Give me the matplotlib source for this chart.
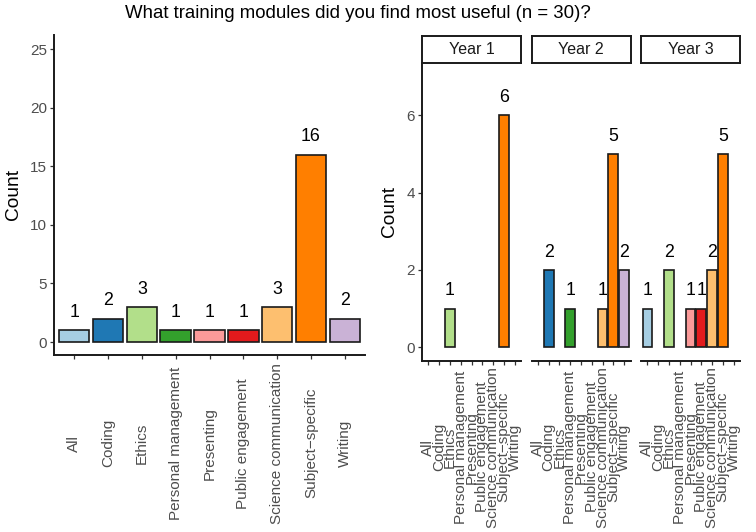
import matplotlib
matplotlib.use("Agg")
import matplotlib.pyplot as plt

plt.rcParams['font.family'] = ['Liberation Sans', 'DejaVu Sans']

# data
modules = ['All', 'Coding', 'Ethics', 'Personal management', 'Presenting',
           'Public engagement', 'Science communication', 'Subject\u2212specific', 'Writing']
total = [1, 2, 3, 1, 1, 1, 3, 16, 2]
years = ['Year 1', 'Year 2', 'Year 3']
year1 = [0, 0, 1, 0, 0, 0, 0, 6, 0]
year2 = [0, 2, 0, 1, 0, 0, 1, 5, 2]
year3 = [1, 0, 2, 0, 1, 1, 2, 5, 0]
by_year = [year1, year2, year3]

colours = ['#A6CEE3', '#1F78B4', '#B2DF8A', '#33A02C', '#FB9A99',
           '#E31A1C', '#FDBF6F', '#FF7F00', '#CAB2D6']

W, H = 756, 532
fig = plt.figure(figsize=(W / 100, H / 100), dpi=100)


def px_axes(x0, y0, x1, y1):
    # pixel box (from top-left) -> figure axes
    return fig.add_axes([x0 / W, 1 - y1 / H, (x1 - x0) / W, (y1 - y0) / H])


def style(ax, show_y=True):
    for s in ['top', 'right']:
        ax.spines[s].set_visible(False)
    ax.spines['bottom'].set_linewidth(1.4)
    ax.spines['left'].set_linewidth(1.4)
    ax.spines['bottom'].set_color('#1a1a1a')
    ax.spines['left'].set_color('#1a1a1a')
    ax.spines['left'].set_visible(show_y)
    ax.tick_params(axis='both', length=3, width=0.9, colors='#333333',
                   labelcolor='#4D4D4D', labelsize=11)
    ax.tick_params(axis='y', pad=2)
    if not show_y:
        ax.tick_params(axis='y', left=False, labelleft=False)
    ax.set_facecolor('white')


def bars(ax, vals):
    xs = [i for i, v in enumerate(vals) if v > 0]
    hs = [v for v in vals if v > 0]
    cs = [colours[i] for i in xs]
    ax.bar(xs, hs, width=0.9, color=cs, edgecolor='#1a1a1a', linewidth=1.2)
    for x, h in zip(xs, hs):
        ax.annotate(str(h), (x, h), xytext=(0, 9.6), textcoords='offset points',
                    ha='center', va='baseline', fontsize=12.8, color='black')


# left panel: totals
ax = px_axes(54, 35, 365, 355)
bars(ax, total)
ax.set_xlim(-0.6, len(modules) - 0.4)
ax.set_ylim(-1.1, 26.2)
ax.set_yticks([0, 5, 10, 15, 20, 25])
ax.set_xticks(range(len(modules)))
ax.set_xticklabels(modules, rotation=90, va='center', ha='center')
style(ax)
ax.tick_params(axis='x', pad=60.5)
ax.set_ylabel('Count', fontsize=13.8, labelpad=6)

# right panel: faceted by year
facet_x = [422, 531.5, 641]
for k, (yr, vals) in enumerate(zip(years, by_year)):
    x0 = facet_x[k]
    fa = px_axes(x0, 63, x0 + 99, 360.7)
    bars(fa, vals)
    fa.set_xlim(-0.6, len(modules) - 0.4)
    fa.set_ylim(-0.35, 7.35)
    fa.set_yticks([0, 2, 4, 6])
    fa.set_xticks(range(len(modules)))
    fa.set_xticklabels(modules, rotation=90, va='center', ha='center')
    style(fa, show_y=(k == 0))
    fa.tick_params(axis='x', pad=59.2)
    if k == 0:
        fa.set_ylabel('Count', fontsize=13.8, labelpad=6)

    st = px_axes(x0, 36, x0 + 99, 62.7)
    st.set_xticks([])
    st.set_yticks([])
    for s in st.spines.values():
        s.set_linewidth(1.4)
        s.set_color('#1a1a1a')
    st.text(0.5, 0.5, yr, ha='center', va='center', fontsize=11.5,
            color='#1a1a1a', transform=st.transAxes)

fig.text(358 / W, 1 - 13 / H, 'What training modules did you find most useful (n = 30)?',
         ha='center', va='center', fontsize=13.4)

fig.savefig('out.png', dpi=100)
